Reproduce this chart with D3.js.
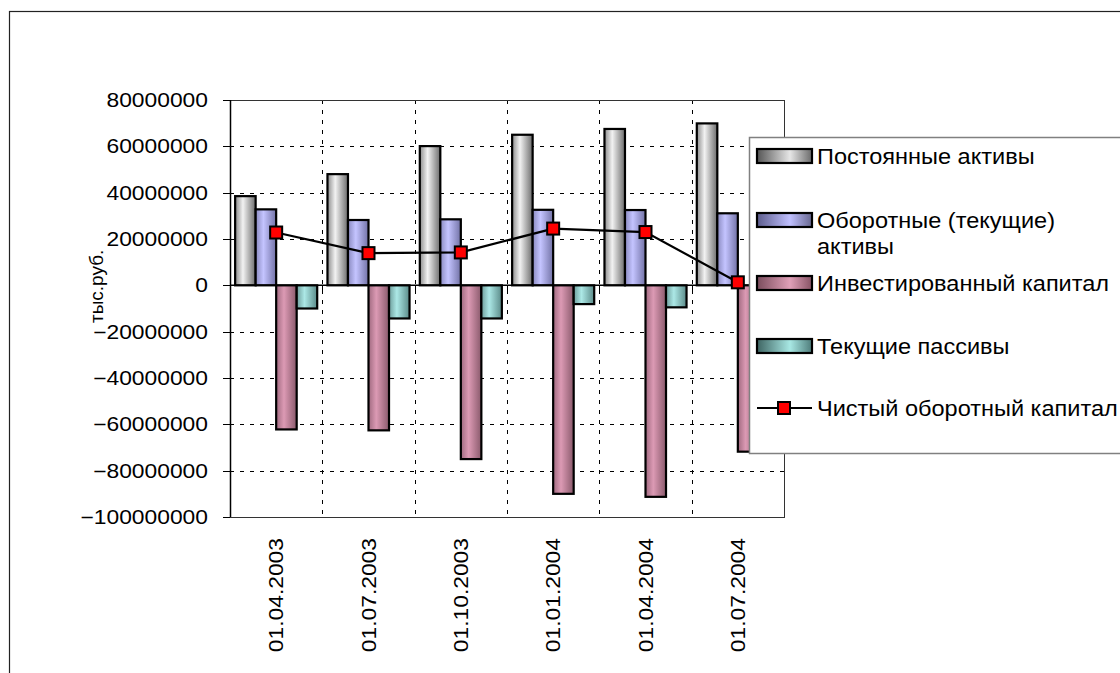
<!DOCTYPE html>
<html>
<head>
<meta charset="utf-8">
<script src="https://cdn.jsdelivr.net/npm/d3@7"></script>
<style>
  html, body { margin: 0; padding: 0; background: #fff; }
  svg { display: block; font-family: "Liberation Sans", Arial, sans-serif; }
</style>
</head>
<body>
<svg id="chart" width="1120" height="673"></svg>
<script>
// Quarterly balance structure, thousand roubles
const dates = ["01.04.2003", "01.07.2003", "01.10.2003", "01.01.2004", "01.04.2004", "01.07.2004"];
const fixedAssets        = [38.5e6, 48.0e6, 60.1e6, 65.0e6, 67.5e6, 69.9e6];
const currentAssets      = [32.8e6, 28.2e6, 28.5e6, 32.6e6, 32.5e6, 31.1e6];
const investedCapital    = [-62.2e6, -62.6e6, -75.0e6, -90.0e6, -91.3e6, -71.8e6];
const currentLiabilities = [-10.0e6, -14.3e6, -14.3e6, -8.1e6, -9.5e6, -29.8e6];
const netWorkingCapital  = [22.8e6, 13.9e6, 14.2e6, 24.5e6, 23.0e6, 1.3e6];

const barSeriesNames = ["Постоянные активы", "Оборотные (текущие) активы", "Инвестированный капитал", "Текущие пассивы"];
const lineSeriesName = "Чистый оборотный капитал";
const yTicks = [80e6, 60e6, 40e6, 20e6, 0, -20e6, -40e6, -60e6, -80e6, -100e6];
const yTitle = "тыс.руб.";

const barSeries = [fixedAssets, currentAssets, investedCapital, currentLiabilities];

// bar gradients: [left, light, right] colours
const barShades = [
  ["#8c8c8c", "#f2f2f2", "#6c6c6c"],
  ["#8a8ac0", "#c4c4ff", "#7272a6"],
  ["#a06a80", "#dc9ab4", "#8a5a6c"],
  ["#6e9e9c", "#ace8e6", "#5a8a88"]
];
const legendShades = [
  ["#555555", "#e6e6e6", "#6a6a6a"],
  ["#5c5c8c", "#c0c0ff", "#66668e"],
  ["#7a4c5c", "#e0a0b8", "#865264"],
  ["#3e6462", "#a8e8e4", "#4e7c7a"]
];

const svg = d3.select("#chart");
const W = 1120, H = 673;
const plot = { left: 230, right: 784, top: 100, bottom: 517 };

svg.append("rect").attr("width", W).attr("height", H).attr("fill", "#fff");
// outer chart frame
svg.append("rect")
  .attr("x", 9.5).attr("y", 11.5).attr("width", 1200).attr("height", 800)
  .attr("fill", "none").attr("stroke", "#222").attr("stroke-width", 1.2);

const defs = svg.append("defs");
function makeGrad(id, c, mid) {
  const g = defs.append("linearGradient").attr("id", id)
    .attr("x1", 0).attr("x2", 1).attr("y1", 0).attr("y2", 0);
  g.append("stop").attr("offset", 0).attr("stop-color", c[0]);
  g.append("stop").attr("offset", mid).attr("stop-color", c[1]);
  g.append("stop").attr("offset", 1).attr("stop-color", c[2]);
}
barShades.forEach((c, i) => makeGrad("bar" + i, c, 0.38));
legendShades.forEach((c, i) => makeGrad("leg" + i, c, 0.6));

const y = d3.scaleLinear().domain([-100e6, 80e6]).range([plot.bottom, plot.top]);
const x = d3.scaleBand().domain(dates).range([plot.left, plot.right]).paddingInner(0).paddingOuter(0);
const xs = d3.scaleBand().domain(d3.range(barSeries.length)).range([0, x.bandwidth()]).paddingInner(0).paddingOuter(0.25);

// gridlines
const grid = svg.append("g").attr("stroke", "#000").attr("stroke-width", 1).attr("stroke-dasharray", "4,6");
grid.selectAll("line.h").data(yTicks.filter(v => v !== 0 && v !== 80e6)).join("line")
  .attr("class", "h")
  .attr("x1", plot.left).attr("x2", plot.right)
  .attr("y1", d => Math.round(y(d)) + 0.5).attr("y2", d => Math.round(y(d)) + 0.5);
grid.selectAll("line.v").data(dates.slice(1)).join("line")
  .attr("class", "v")
  .attr("x1", d => Math.round(x(d)) + 0.5).attr("x2", d => Math.round(x(d)) + 0.5)
  .attr("y1", plot.top).attr("y2", plot.bottom);

// plot frame
svg.append("rect")
  .attr("x", plot.left + 0.5).attr("y", plot.top + 0.5)
  .attr("width", plot.right - plot.left).attr("height", plot.bottom - plot.top)
  .attr("fill", "none").attr("stroke", "#333").attr("stroke-width", 1);

// bars
barSeries.forEach((vals, si) => {
  svg.append("g").selectAll("rect").data(vals).join("rect")
    .attr("x", (d, i) => x(dates[i]) + xs(si))
    .attr("width", xs.bandwidth())
    .attr("y", d => y(Math.max(0, d)))
    .attr("height", d => Math.abs(y(d) - y(0)))
    .attr("fill", `url(#bar${si})`)
    .attr("stroke", "#000").attr("stroke-width", 2.2);
});

// zero axis with category ticks
svg.append("line")
  .attr("x1", plot.left).attr("x2", plot.right)
  .attr("y1", y(0)).attr("y2", y(0))
  .attr("stroke", "#000").attr("stroke-width", 1.5);
svg.append("g").selectAll("line").data(dates.slice(1)).join("line")
  .attr("x1", d => Math.round(x(d)) + 0.5).attr("x2", d => Math.round(x(d)) + 0.5)
  .attr("y1", y(0)).attr("y2", y(0) + 5)
  .attr("stroke", "#000");

// net working capital line
const lineGen = d3.line().x((d, i) => x(dates[i]) + x.bandwidth() / 2).y(d => y(d));
svg.append("path").datum(netWorkingCapital)
  .attr("d", lineGen).attr("fill", "none")
  .attr("stroke", "#000").attr("stroke-width", 2.2);
const mk = 12;
svg.append("g").selectAll("rect").data(netWorkingCapital).join("rect")
  .attr("x", (d, i) => x(dates[i]) + x.bandwidth() / 2 - mk / 2)
  .attr("y", d => y(d) - mk / 2)
  .attr("width", mk).attr("height", mk)
  .attr("fill", "#ff0000").attr("stroke", "#000").attr("stroke-width", 2);

// value axis
const yAxisG = svg.append("g");
yAxisG.append("line")
  .attr("x1", plot.left + 0.5).attr("x2", plot.left + 0.5)
  .attr("y1", plot.top).attr("y2", plot.bottom)
  .attr("stroke", "#000").attr("stroke-width", 1.5);
yAxisG.selectAll("line.t").data(yTicks).join("line")
  .attr("class", "t")
  .attr("x1", plot.left - 7).attr("x2", plot.left)
  .attr("y1", d => Math.round(y(d)) + 0.5).attr("y2", d => Math.round(y(d)) + 0.5)
  .attr("stroke", "#000");
const axisFont = 19.5, axisStretch = 1.17;
yAxisG.selectAll("text").data(yTicks).join("text")
  .attr("transform", d => `translate(${plot.left - 22},${y(d) + 7}) scale(${axisStretch},1)`)
  .attr("text-anchor", "end")
  .attr("font-size", axisFont)
  .attr("fill", "#000")
  .text(d => d3.format("d")(d));

// value axis title
svg.append("text")
  .attr("transform", `translate(103,${y(0) + 1}) rotate(-90)`)
  .attr("text-anchor", "middle")
  .attr("font-size", 19)
  .text(yTitle);

// category labels
svg.append("g").selectAll("text").data(dates).join("text")
  .attr("transform", d => `translate(${x(d) + x.bandwidth() / 2 + 7},538) rotate(-90) scale(${axisStretch},1)`)
  .attr("text-anchor", "end")
  .attr("font-size", axisFont)
  .text(d => d);

// legend
const legend = svg.append("g");
legend.append("rect")
  .attr("x", 749.5).attr("y", 137.5).attr("width", 420).attr("height", 316)
  .attr("fill", "#fff").attr("stroke", "#808080").attr("stroke-width", 1.5);
const legRows = [156, 220, 283, 346];
const legFont = 21.5, legStretch = 1.095;
const legendLabels = [["Постоянные активы"], ["Оборотные (текущие)", "активы"], ["Инвестированный капитал"], ["Текущие пассивы"]];
legendLabels.forEach((lines, i) => {
  legend.append("rect")
    .attr("x", 757).attr("y", legRows[i] - 7).attr("width", 55).attr("height", 14)
    .attr("fill", `url(#leg${i})`).attr("stroke", "#000").attr("stroke-width", 2.2);
  lines.forEach((t, k) => {
    legend.append("text")
      .attr("transform", `translate(817,${legRows[i] + 8 + k * 26}) scale(${legStretch},1)`)
      .attr("font-size", legFont)
      .text(t);
  });
});
const lineRow = 408;
legend.append("line").attr("x1", 757).attr("x2", 812).attr("y1", lineRow).attr("y2", lineRow)
  .attr("stroke", "#000").attr("stroke-width", 2.2);
legend.append("rect").attr("x", 784 - mk / 2).attr("y", lineRow - mk / 2).attr("width", mk).attr("height", mk)
  .attr("fill", "#ff0000").attr("stroke", "#000").attr("stroke-width", 2);
legend.append("text")
  .attr("transform", `translate(817,${lineRow + 8}) scale(${legStretch},1)`)
  .attr("font-size", legFont)
  .text(lineSeriesName);
</script>
</body>
</html>
